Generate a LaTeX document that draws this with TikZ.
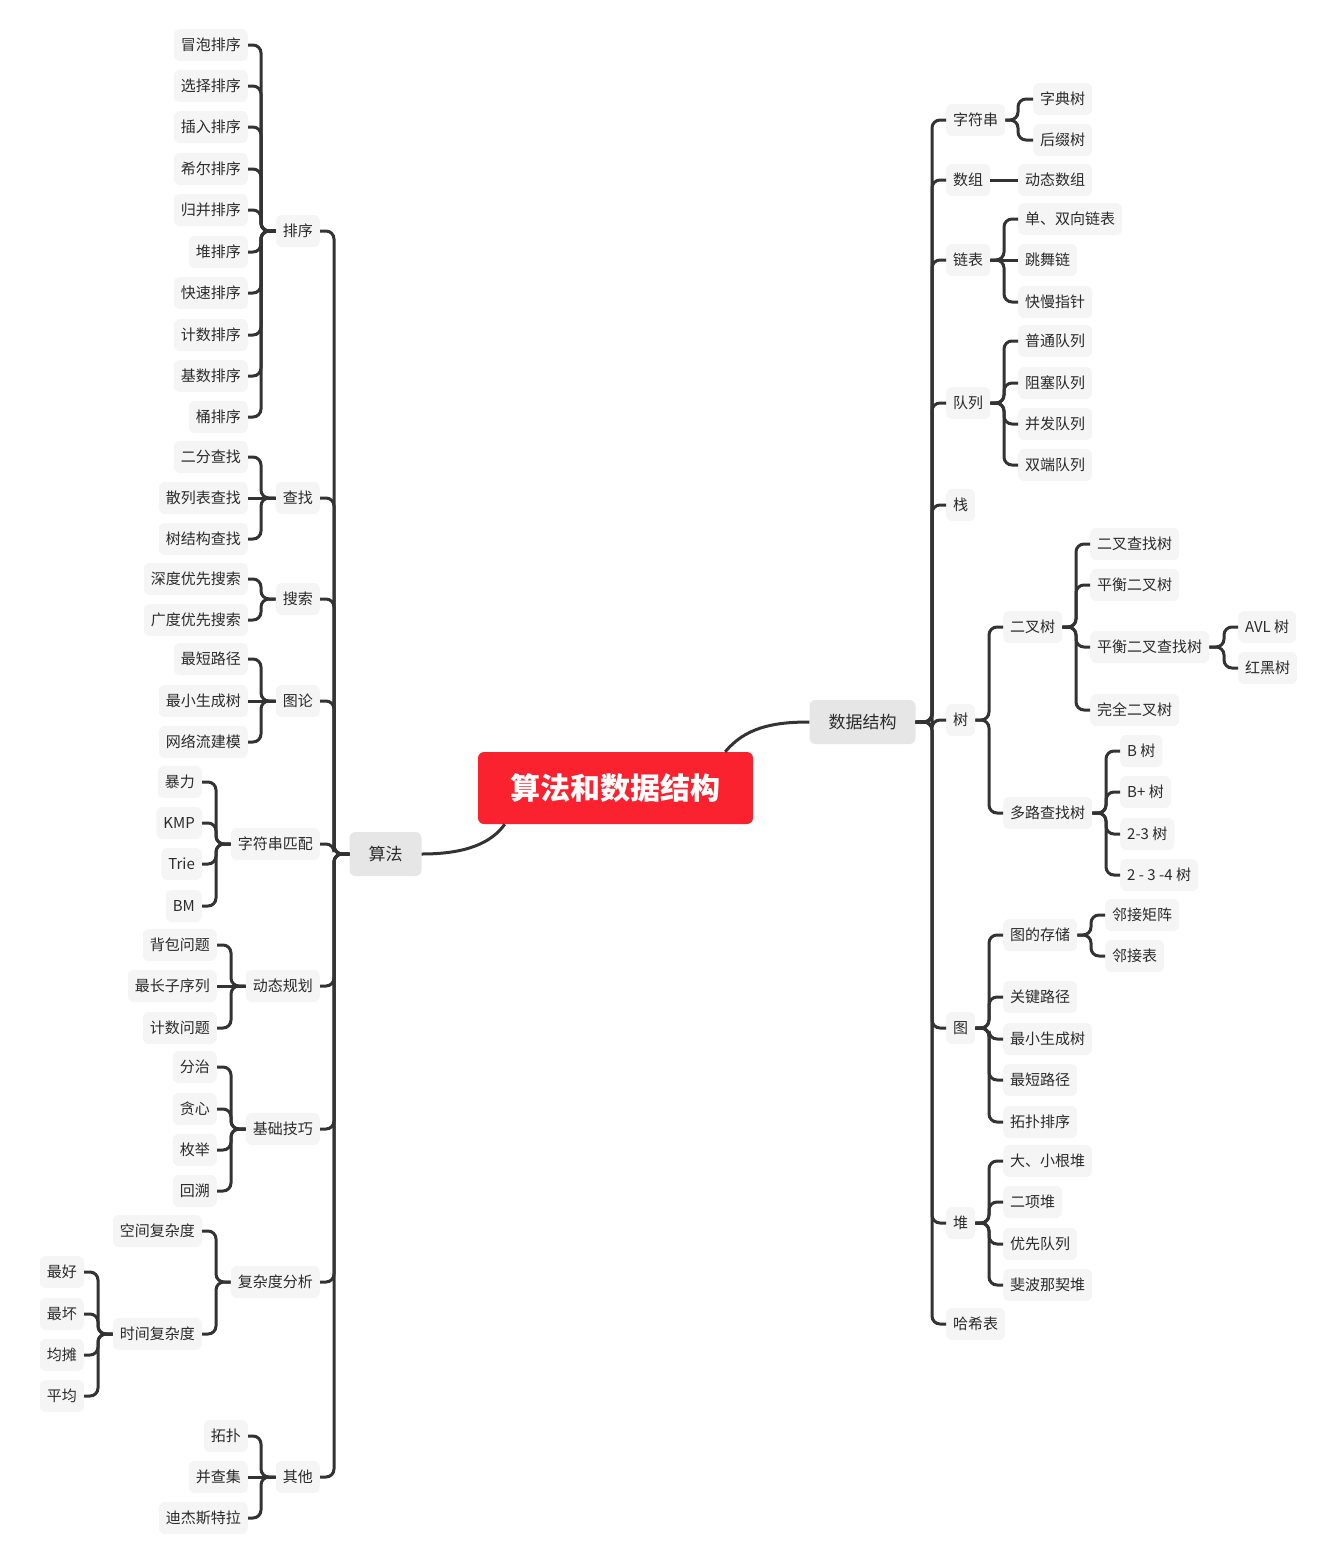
\documentclass[tikz,border=0pt]{standalone}
\usepackage{fontspec}
\setmainfont{Noto Sans CJK SC}
\definecolor{leafc}{HTML}{F5F5F5}
\definecolor{mainc}{HTML}{E6E6E6}
\definecolor{rootc}{HTML}{F9222E}
\definecolor{linec}{HTML}{333333}
\definecolor{txt}{HTML}{2B2B2B}
\tikzset{
 lf/.style={fill=leafc, rounded corners=6pt, minimum height=32pt, inner xsep=7pt, inner ysep=0pt, text=txt, font=\fontsize{15}{18}\selectfont},
 mn/.style={fill=mainc, rounded corners=6pt, minimum height=44pt, inner xsep=19pt, inner ysep=0pt, text=txt, font=\fontsize{17}{20}\selectfont},
 rt/.style={fill=rootc, rounded corners=6pt, minimum width=275pt, minimum height=72pt, inner sep=0pt, text=white, font=\fontsize{30}{36}\selectfont\bfseries},
 conn/.style={draw=linec, line width=3pt, rounded corners=8pt},
 L/.style={lf, anchor=east},
 R/.style={lf, anchor=west},
}
\newcommand\lk[3]{\draw[conn] (#1.west) -| (#2.east -| #3,0) -- (#2.east);}
\newcommand\rk[3]{\draw[conn] (#1.east) -| (#2.west -| #3,0) -- (#2.west);}
\newcommand\ls[2]{\draw[conn] (#1.west) -- (#2.east);}
\newcommand\rs[2]{\draw[conn] (#1.east) -- (#2.west);}
\begin{document}
\begin{tikzpicture}[x=1pt,y=-1pt]
\useasboundingbox (0,0) rectangle (1330,1556);
% root and main branches
\node[rt] (root) at (615.5,788) {算法和数据结构};
\node[mn] (sf) at (385.5,854) {算法};
\node[mn] (ds) at (862.5,722) {数据结构};
\draw[conn,rounded corners=0pt] (sf.east) .. controls (468,854) and (492,842) .. ([xshift=27pt]root.south west);
\draw[conn,rounded corners=0pt] (ds.west) .. controls (772,722) and (745,728) .. ([xshift=-28pt]root.north east);

% ===== left: algorithms =====
\node[L] (px) at (320,231) {排序};
\node[L] (cz) at (320,498) {查找};
\node[L] (ss) at (320,599) {搜索};
\node[L] (tl) at (320,701) {图论};
\node[L] (zp) at (320,844) {字符串匹配};
\node[L] (dp) at (320,986) {动态规划};
\node[L] (jc) at (320,1129) {基础技巧};
\node[L] (fz) at (320,1282) {复杂度分析};
\node[L] (qt) at (320,1477) {其他};
\foreach \c in {px,cz,ss,tl,zp,dp,jc,fz,qt} {\lk{sf}{\c}{334}}

\node[L] (px1) at (248,45) {冒泡排序};
\node[L] (px2) at (248,86) {选择排序};
\node[L] (px3) at (248,127) {插入排序};
\node[L] (px4) at (248,169) {希尔排序};
\node[L] (px5) at (248,210) {归并排序};
\node[L] (px6) at (248,252) {堆排序};
\node[L] (px7) at (248,293) {快速排序};
\node[L] (px8) at (248,335) {计数排序};
\node[L] (px9) at (248,376) {基数排序};
\node[L] (px10) at (248,417) {桶排序};
\foreach \c in {px1,px2,px3,px4,px5,px6,px7,px8,px9,px10} {\lk{px}{\c}{261}}

\node[L] (cz1) at (248,457) {二分查找};
\node[L] (cz2) at (248,498) {散列表查找};
\node[L] (cz3) at (248,539) {树结构查找};
\lk{cz}{cz1}{261} \ls{cz}{cz2} \lk{cz}{cz3}{261}

\node[L] (ss1) at (248,579) {深度优先搜索};
\node[L] (ss2) at (248,620) {广度优先搜索};
\lk{ss}{ss1}{261} \lk{ss}{ss2}{261}

\node[L] (tl1) at (248,659) {最短路径};
\node[L] (tl2) at (248,701) {最小生成树};
\node[L] (tl3) at (248,742) {网络流建模};
\lk{tl}{tl1}{261} \ls{tl}{tl2} \lk{tl}{tl3}{261}

\node[L] (zp1) at (202,782) {暴力};
\node[L] (zp2) at (202,823) {KMP};
\node[L] (zp3) at (202,864) {Trie};
\node[L] (zp4) at (202,906) {BM};
\foreach \c in {zp1,zp2,zp3,zp4} {\lk{zp}{\c}{216}}

\node[L] (dp1) at (217,945) {背包问题};
\node[L] (dp2) at (217,986) {最长子序列};
\node[L] (dp3) at (217,1028) {计数问题};
\lk{dp}{dp1}{231} \ls{dp}{dp2} \lk{dp}{dp3}{231}

\node[L] (jc1) at (217,1067) {分治};
\node[L] (jc2) at (217,1109) {贪心};
\node[L] (jc3) at (217,1150) {枚举};
\node[L] (jc4) at (217,1191) {回溯};
\foreach \c in {jc1,jc2,jc3,jc4} {\lk{jc}{\c}{231}}

\node[L] (fz1) at (202,1231) {空间复杂度};
\node[L] (fz2) at (202,1334) {时间复杂度};
\lk{fz}{fz1}{216} \lk{fz}{fz2}{216}

\node[L] (tc1) at (84,1272) {最好};
\node[L] (tc2) at (84,1314) {最坏};
\node[L] (tc3) at (84,1355) {均摊};
\node[L] (tc4) at (84,1396) {平均};
\foreach \c in {tc1,tc2,tc3,tc4} {\lk{fz2}{\c}{98}}

\node[L] (qt1) at (248,1436) {拓扑};
\node[L] (qt2) at (248,1477) {并查集};
\node[L] (qt3) at (248,1518) {迪杰斯特拉};
\lk{qt}{qt1}{261} \ls{qt}{qt2} \lk{qt}{qt3}{261}

% ===== right: data structures =====
\node[R] (zfc) at (946,120) {字符串};
\node[R] (sz) at (946,180) {数组};
\node[R] (lb) at (946,260) {链表};
\node[R] (dl) at (946,403) {队列};
\node[R] (zh) at (946,505) {栈};
\node[R] (sh) at (946,720) {树};
\node[R] (tu) at (946,1028) {图};
\node[R] (dui) at (946,1223) {堆};
\node[R] (hx) at (946,1324) {哈希表};
\foreach \c in {zfc,sz,lb,dl,zh,sh,tu,dui,hx} {\rk{ds}{\c}{932}}

\node[R] (zfc1) at (1033,99) {字典树};
\node[R] (zfc2) at (1033,140) {后缀树};
\rk{zfc}{zfc1}{1018} \rk{zfc}{zfc2}{1018}

\node[R] (sz1) at (1018,180) {动态数组};
\rs{sz}{sz1}

\node[R] (lb1) at (1018,219) {单、双向链表};
\node[R] (lb2) at (1018,260) {跳舞链};
\node[R] (lb3) at (1018,302) {快慢指针};
\rk{lb}{lb1}{1004} \rs{lb}{lb2} \rk{lb}{lb3}{1004}

\node[R] (dl1) at (1018,341) {普通队列};
\node[R] (dl2) at (1018,383) {阻塞队列};
\node[R] (dl3) at (1018,424) {并发队列};
\node[R] (dl4) at (1018,465) {双端队列};
\foreach \c in {dl1,dl2,dl3,dl4} {\rk{dl}{\c}{1004}}

\node[R] (sh1) at (1003,627) {二叉树};
\node[R] (sh2) at (1003,813) {多路查找树};
\rk{sh}{sh1}{989} \rk{sh}{sh2}{989}

\node[R] (ec1) at (1090,544) {二叉查找树};
\node[R] (ec2) at (1090,585) {平衡二叉树};
\node[R] (ec3) at (1090,647) {平衡二叉查找树};
\node[R] (ec4) at (1090,710) {完全二叉树};
\foreach \c in {ec1,ec2,ec3,ec4} {\rk{sh1}{\c}{1076}}

\node[R] (ph1) at (1238,627) {AVL 树};
\node[R] (ph2) at (1238,668) {红黑树};
\rk{ec3}{ph1}{1224} \rk{ec3}{ph2}{1224}

\node[R] (mw1) at (1120,751) {B 树};
\node[R] (mw2) at (1120,792) {B+ 树};
\node[R] (mw3) at (1120,834) {2-3 树};
\node[R] (mw4) at (1120,875) {2 - 3 -4 树};
\foreach \c in {mw1,mw2,mw3,mw4} {\rk{sh2}{\c}{1106}}

\node[R] (tu1) at (1003,935) {图的存储};
\node[R] (tu2) at (1003,997) {关键路径};
\node[R] (tu3) at (1003,1039) {最小生成树};
\node[R] (tu4) at (1003,1080) {最短路径};
\node[R] (tu5) at (1003,1122) {拓扑排序};
\foreach \c in {tu1,tu2,tu3,tu4,tu5} {\rk{tu}{\c}{989}}

\node[R] (cc1) at (1105,915) {邻接矩阵};
\node[R] (cc2) at (1105,956) {邻接表};
\rk{tu1}{cc1}{1091} \rk{tu1}{cc2}{1091}

\node[R] (dui1) at (1003,1161) {大、小根堆};
\node[R] (dui2) at (1003,1202) {二项堆};
\node[R] (dui3) at (1003,1244) {优先队列};
\node[R] (dui4) at (1003,1285) {斐波那契堆};
\foreach \c in {dui1,dui2,dui3,dui4} {\rk{dui}{\c}{989}}
\end{tikzpicture}
\end{document}
